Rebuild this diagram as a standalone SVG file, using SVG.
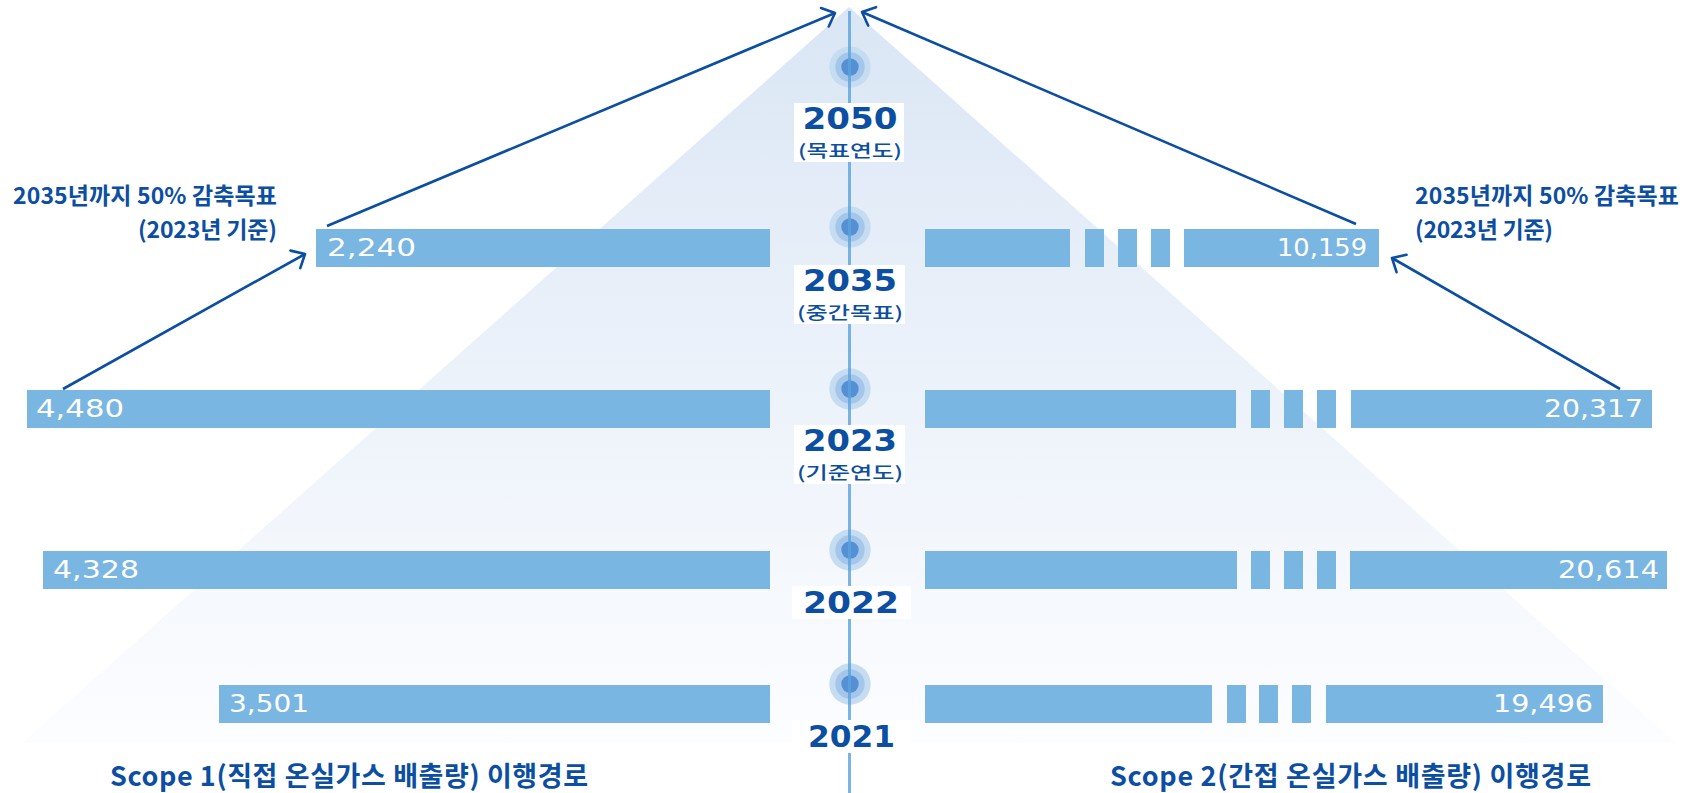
<svg xmlns="http://www.w3.org/2000/svg" width="1693" height="793" viewBox="0 0 1693 793">
<defs>
<linearGradient id="tri" x1="0" y1="7" x2="0" y2="743" gradientUnits="userSpaceOnUse">
<stop offset="0" stop-color="#dae6f5"/>
<stop offset="0.5" stop-color="#ecf2fa"/>
<stop offset="1" stop-color="#fcfdff"/>
</linearGradient>
<marker id="arr" markerUnits="userSpaceOnUse" markerWidth="30" markerHeight="30" refX="0" refY="0" viewBox="-15 -15 30 30" orient="auto" overflow="visible">
<path d="M-11,-10 L0,0 L-11,10" fill="none" stroke="#0b4ea2" stroke-width="2.6" stroke-linecap="round" stroke-linejoin="round"/>
</marker>
<style>
.bar{fill:#7ab6e2}
.val{font-family:"DejaVu Sans","Liberation Sans",sans-serif;font-size:25px;fill:#ffffff}
.yr{font-family:"DejaVu Sans","Liberation Sans",sans-serif;font-weight:700;font-size:31px;fill:#0b4ea2;text-anchor:middle}
.sub{font-family:"Noto Sans CJK KR",sans-serif;font-weight:500;font-size:17px;fill:#0b4ea2;text-anchor:middle}
.lbl{font-family:"Noto Sans CJK KR",sans-serif;font-weight:700;font-size:23px;fill:#0b4ea2}
.ttl{font-family:"Noto Sans CJK KR",sans-serif;font-weight:700;font-size:27px;fill:#0b4ea2}
.box{fill:#ffffff}
.c1{fill:#c6dcf1}
.c2{fill:#a3c6ea}
.c3{fill:#5690d4}
.conn{fill:none;stroke:#0b4ea2;stroke-width:2.6;marker-end:url(#arr)}
</style>
</defs>
<rect width="1693" height="793" fill="#ffffff"/>
<polygon id="pyramid" points="849,7 22,743 1676,743" fill="url(#tri)"/>

<g id="timeline">
<g class="dot"><circle cx="850" cy="67" r="20.7" class="c1"/><circle cx="850" cy="67" r="14.7" class="c2"/><circle cx="850" cy="67" r="8.7" class="c3"/></g>
<g class="dot"><circle cx="850" cy="227" r="20.7" class="c1"/><circle cx="850" cy="227" r="14.7" class="c2"/><circle cx="850" cy="227" r="8.7" class="c3"/></g>
<g class="dot"><circle cx="850" cy="389" r="20.7" class="c1"/><circle cx="850" cy="389" r="14.7" class="c2"/><circle cx="850" cy="389" r="8.7" class="c3"/></g>
<g class="dot"><circle cx="850" cy="550" r="20.7" class="c1"/><circle cx="850" cy="550" r="14.7" class="c2"/><circle cx="850" cy="550" r="8.7" class="c3"/></g>
<g class="dot"><circle cx="850" cy="684" r="20.7" class="c1"/><circle cx="850" cy="684" r="14.7" class="c2"/><circle cx="850" cy="684" r="8.7" class="c3"/></g>
<line x1="849.5" y1="11" x2="849.5" y2="793" stroke="#5aa3dd" stroke-width="3" stroke-opacity="0.8"/>
</g>

<g id="year-2050">
<rect class="box" x="794" y="103" width="110" height="59"/>
<text class="yr" x="850" y="129" textLength="95" lengthAdjust="spacingAndGlyphs">2050</text>
<text class="sub" x="850" y="157" textLength="104" lengthAdjust="spacingAndGlyphs">(목표연도)</text>
</g>
<g id="year-2035">
<rect class="box" x="794" y="265" width="111" height="59"/>
<text class="yr" x="850" y="291" textLength="94" lengthAdjust="spacingAndGlyphs">2035</text>
<text class="sub" x="850" y="319" textLength="106" lengthAdjust="spacingAndGlyphs">(중간목표)</text>
</g>
<g id="year-2023">
<rect class="box" x="794" y="425" width="111" height="59"/>
<text class="yr" x="850" y="451" textLength="94" lengthAdjust="spacingAndGlyphs">2023</text>
<text class="sub" x="850" y="479" textLength="106" lengthAdjust="spacingAndGlyphs">(기준연도)</text>
</g>
<g id="year-2022">
<rect class="box" x="792" y="586" width="119" height="33"/>
<text class="yr" x="851" y="613" textLength="96" lengthAdjust="spacingAndGlyphs">2022</text>
</g>
<g id="year-2021">
<rect class="box" x="792" y="720" width="119" height="33"/>
<text class="yr" x="851.5" y="747" textLength="87" lengthAdjust="spacingAndGlyphs">2021</text>
</g>

<g id="scope1-2035">
<rect class="bar" x="316" y="229" width="454" height="38"/>
<text class="val" x="327" y="256" textLength="89" lengthAdjust="spacingAndGlyphs">2,240</text>
</g>
<g id="scope1-2023">
<rect class="bar" x="27" y="390" width="743" height="38"/>
<text class="val" x="36" y="417" textLength="88" lengthAdjust="spacingAndGlyphs">4,480</text>
</g>
<g id="scope1-2022">
<rect class="bar" x="43" y="551" width="727" height="38"/>
<text class="val" x="53" y="578" textLength="86" lengthAdjust="spacingAndGlyphs">4,328</text>
</g>
<g id="scope1-2021">
<rect class="bar" x="219" y="685" width="551" height="38"/>
<text class="val" x="229" y="712" textLength="80" lengthAdjust="spacingAndGlyphs">3,501</text>
</g>

<g id="scope2-2035">
<rect class="bar" x="925" y="229" width="145" height="38"/>
<rect class="bar" x="1085" y="229" width="19" height="38"/>
<rect class="bar" x="1118" y="229" width="19" height="38"/>
<rect class="bar" x="1151" y="229" width="19" height="38"/>
<rect class="bar" x="1184" y="229" width="195" height="38"/>
<text class="val" x="1367" y="256" text-anchor="end" textLength="90" lengthAdjust="spacingAndGlyphs">10,159</text>
</g>
<g id="scope2-2023">
<rect class="bar" x="925" y="390" width="311" height="38"/>
<rect class="bar" x="1251" y="390" width="19" height="38"/>
<rect class="bar" x="1284" y="390" width="19" height="38"/>
<rect class="bar" x="1317" y="390" width="19" height="38"/>
<rect class="bar" x="1351" y="390" width="301" height="38"/>
<text class="val" x="1643" y="417" text-anchor="end" textLength="99" lengthAdjust="spacingAndGlyphs">20,317</text>
</g>
<g id="scope2-2022">
<rect class="bar" x="925" y="551" width="312" height="38"/>
<rect class="bar" x="1251" y="551" width="19" height="38"/>
<rect class="bar" x="1284" y="551" width="19" height="38"/>
<rect class="bar" x="1317" y="551" width="19" height="38"/>
<rect class="bar" x="1350" y="551" width="317" height="38"/>
<text class="val" x="1659" y="578" text-anchor="end" textLength="101" lengthAdjust="spacingAndGlyphs">20,614</text>
</g>
<g id="scope2-2021">
<rect class="bar" x="925" y="685" width="287" height="38"/>
<rect class="bar" x="1227" y="685" width="19" height="38"/>
<rect class="bar" x="1259" y="685" width="19" height="38"/>
<rect class="bar" x="1292" y="685" width="19" height="38"/>
<rect class="bar" x="1326" y="685" width="277" height="38"/>
<text class="val" x="1593" y="712" text-anchor="end" textLength="100" lengthAdjust="spacingAndGlyphs">19,496</text>
</g>

<g id="connectors">
<line class="conn" x1="63" y1="389" x2="305" y2="254"/>
<line class="conn" x1="327" y1="226" x2="835" y2="13"/>
<line class="conn" x1="1620" y1="389" x2="1392" y2="258"/>
<line class="conn" x1="1356" y1="224" x2="862" y2="12"/>
</g>

<g id="note-left">
<text class="lbl" x="277" y="204" text-anchor="end" textLength="264">2035년까지 50% 감축목표</text>
<text class="lbl" x="277" y="238" text-anchor="end" textLength="139">(2023년 기준)</text>
</g>
<g id="note-right">
<text class="lbl" x="1415" y="204" textLength="264">2035년까지 50% 감축목표</text>
<text class="lbl" x="1415" y="238" textLength="138">(2023년 기준)</text>
</g>

<g id="title-scope1">
<text class="ttl" x="110" y="786" textLength="478">Scope 1(직접 온실가스 배출량) 이행경로</text>
</g>
<g id="title-scope2">
<text class="ttl" x="1110" y="786" textLength="481">Scope 2(간접 온실가스 배출량) 이행경로</text>
</g>
</svg>
